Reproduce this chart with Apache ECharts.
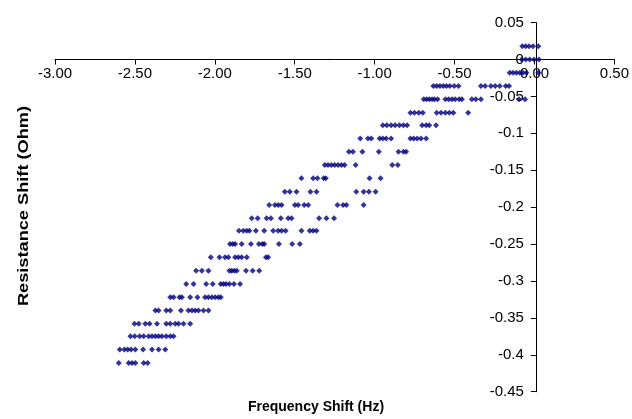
<!DOCTYPE html>
<html><head><meta charset="utf-8">
<script src="https://cdn.jsdelivr.net/npm/echarts@6/dist/echarts.min.js"></script>
<style>html,body{margin:0;padding:0;background:#fff}#c{width:632px;height:419px}</style>
</head><body><div id="c"></div>
<script>
// Resistance shift levels (Ohm), one per row of points
const resistanceLevels = [0.018, 0.000, -0.018, -0.036, -0.054, -0.072, -0.089, -0.107, -0.125,
  -0.143, -0.161, -0.179, -0.197, -0.215, -0.232, -0.250, -0.268, -0.286, -0.304, -0.322,
  -0.340, -0.358, -0.375, -0.393, -0.411];
// Frequency shift values (Hz) found at each resistance level
const frequencyByLevel = [
  [-0.076, -0.055, -0.034, -0.009, 0.024],
  [-0.080, -0.055, -0.030, -0.003, 0.028],
  [-0.155, -0.134, -0.113, -0.092, -0.072, -0.051, 0.024],
  [-0.633, -0.612, -0.591, -0.570, -0.550, -0.529, -0.502, -0.475, -0.335, -0.309, -0.273, -0.246, -0.217, -0.180, -0.159],
  [-0.693, -0.675, -0.658, -0.641, -0.625, -0.606, -0.558, -0.537, -0.516, -0.496, -0.471, -0.454, -0.392, -0.367, -0.335, -0.097, -0.059],
  [-0.776, -0.751, -0.724, -0.699, -0.612, -0.585, -0.558, -0.533, -0.508, -0.415],
  [-0.949, -0.924, -0.897, -0.872, -0.845, -0.820, -0.797, -0.703, -0.678, -0.658, -0.616],
  [-1.090, -1.042, -1.021, -0.969, -0.949, -0.928, -0.897, -0.776, -0.756, -0.734, -0.710, -0.678],
  [-1.161, -1.136, -1.077, -0.974, -0.851, -0.820, -0.803],
  [-1.312, -1.292, -1.271, -1.250, -1.229, -1.208, -1.188, -1.119, -0.890, -0.855],
  [-1.458, -1.385, -1.358, -1.319, -1.306, -1.032, -0.963],
  [-1.562, -1.531, -1.489, -1.402, -1.364, -1.115, -1.069, -1.036, -0.994],
  [-1.660, -1.624, -1.603, -1.582, -1.499, -1.479, -1.441, -1.416, -1.233, -1.198, -1.177, -1.069],
  [-1.769, -1.732, -1.676, -1.649, -1.587, -1.541, -1.520, -1.348, -1.302, -1.254],
  [-1.849, -1.822, -1.801, -1.784, -1.743, -1.691, -1.635, -1.604, -1.582, -1.557, -1.458, -1.406, -1.385, -1.364],
  [-1.905, -1.888, -1.873, -1.832, -1.774, -1.724, -1.703, -1.691, -1.599, -1.516, -1.468],
  [-2.025, -1.971, -1.936, -1.915, -1.873, -1.853, -1.832, -1.800, -1.680, -1.666],
  [-2.117, -2.081, -2.040, -1.909, -1.894, -1.878, -1.863, -1.805, -1.763, -1.722],
  [-2.179, -2.133, -2.054, -2.013, -1.963, -1.946, -1.930, -1.909, -1.880, -1.842],
  [-2.279, -2.258, -2.221, -2.206, -2.154, -2.109, -2.061, -2.040, -2.019, -1.998, -1.978, -1.963],
  [-2.372, -2.352, -2.304, -2.279, -2.212, -2.165, -2.143, -2.123, -2.102, -2.071, -2.040],
  [-2.503, -2.476, -2.435, -2.408, -2.362, -2.304, -2.279, -2.248, -2.227, -2.196, -2.154],
  [-2.528, -2.501, -2.470, -2.445, -2.414, -2.393, -2.372, -2.352, -2.331, -2.304, -2.279, -2.258],
  [-2.595, -2.566, -2.545, -2.524, -2.497, -2.449, -2.393, -2.352, -2.310],
  [-2.601, -2.539, -2.518, -2.497, -2.445, -2.420]
];
const xAxisMin = -3, xAxisMax = 0.5, xAxisStep = 0.5;
const yAxisMin = -0.45, yAxisMax = 0.05, yAxisStep = 0.05;
const xTitle = 'Frequency Shift (Hz)';
const yTitle = 'Resistance Shift (Ohm)';

const points = [];
frequencyByLevel.forEach((row, i) => row.forEach(f => points.push([f, resistanceLevels[i]])));

const FONT = "'Liberation Sans', Arial, sans-serif";
const W = 632, H = 419;
const G = {left: 55, right: 16, top: 22.6, bottom: 27.3};
const gw = W - G.left - G.right, gh = H - G.top - G.bottom;
// move the axes so they cross at the origin (labels travel with them)
const xAxisOffset = -gh * (0 - yAxisMin) / (yAxisMax - yAxisMin);
const yAxisOffset = -gw * (0 - xAxisMin) / (xAxisMax - xAxisMin);

const chart = echarts.init(document.getElementById('c'), null, {renderer: 'canvas'});
chart.setOption({
  animation: false,
  backgroundColor: '#fff',
  grid: Object.assign({containLabel: false}, G),
  xAxis: {
    type: 'value', min: xAxisMin, max: xAxisMax, interval: xAxisStep,
    position: 'bottom', offset: xAxisOffset,
    axisLine: {onZero: false, lineStyle: {color: '#000', width: 1}},
    axisTick: {show: true, inside: false, length: 5, lineStyle: {color: '#000'}},
    axisLabel: {color: '#000', fontFamily: FONT, fontSize: 15, margin: 7,
      formatter: v => v.toFixed(2)},
    splitLine: {show: false}
  },
  yAxis: {
    type: 'value', min: yAxisMin, max: yAxisMax, interval: yAxisStep,
    position: 'left', offset: yAxisOffset,
    axisLine: {onZero: false, lineStyle: {color: '#000', width: 1}},
    axisTick: {show: true, inside: false, length: 5, lineStyle: {color: '#000'}},
    axisLabel: {color: '#000', fontFamily: FONT, fontSize: 15, margin: 12,
      formatter: v => String(+v.toFixed(2))},
    splitLine: {show: false}
  },
  graphic: [
    {type: 'text', x: 316, y: 407, style: {text: xTitle, font: "bold 14px " + FONT, fill: '#000', align: 'center', verticalAlign: 'middle'}},
    {type: 'text', rotation: Math.PI / 2, scaleX: 1.3, x: 24, y: 206, style: {text: yTitle, font: "bold 14px " + FONT, fill: '#000', align: 'center', verticalAlign: 'middle'}}
  ],
  series: [{
    type: 'scatter',
    data: points,
    symbol: 'diamond',
    symbolSize: [6, 6],
    itemStyle: {color: '#000080'},
    z: 5
  }]
});
</script>
</body></html>
